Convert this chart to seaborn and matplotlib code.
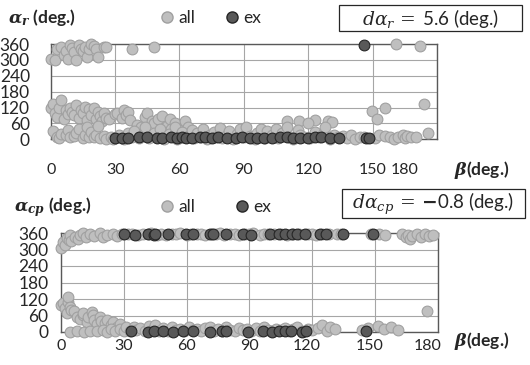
import numpy as np
import pandas as pd
import seaborn as sns
import matplotlib.pyplot as plt
import matplotlib.transforms as mtrans
from matplotlib.lines import Line2D
from matplotlib.patches import Rectangle

# (beta, alpha) pairs
r_all_high = [(0, 303), (2, 298), (3, 340), (5, 350), (6, 320), (7, 335), (8, 305), (9, 358),
              (10, 345), (11, 330), (12, 298), (13, 358), (14, 340), (15, 335), (16, 350),
              (17, 310), (18, 340), (19, 360), (20, 352), (21, 342), (22, 312), (25, 348),
              (26, 350), (38, 340), (48, 348), (161, 360), (172, 352)]
r_all_mid = [(0, 120), (1, 132), (2, 100), (3, 85), (4, 118), (5, 150), (6, 75), (7, 110),
             (8, 95), (9, 120), (10, 105), (11, 90), (12, 130), (13, 80), (14, 112), (15, 100),
             (16, 122), (17, 72), (18, 115), (19, 92), (20, 118), (21, 78), (22, 105), (23, 88),
             (24, 68), (25, 100), (26, 82), (27, 75), (30, 95), (31, 100), (33, 80), (34, 110),
             (35, 90), (36, 105), (37, 72), (40, 55), (42, 45), (44, 85), (45, 98), (47, 70),
             (48, 60), (50, 78), (52, 88), (54, 50), (55.5, 78), (56, 40), (58, 62), (60, 35),
             (62.5, 70), (64, 45), (110, 70), (115.5, 70), (123, 72), (129, 68), (131, 65),
             (149.5, 106), (156, 118), (152, 76), (174, 133)]
r_all_low = [(1, 30), (3, 10), (4, 5), (5, 20), (7, 15), (8, 35), (9, 8), (11, 12), (12, 25),
             (13, 40), (15, 5), (16, 18), (17, 45), (18, 10), (19, 28), (20, 8), (21, 15),
             (22, 50), (23, 5), (25, 12), (26, 3), (28, 8), (29, 2), (30, 5), (32, 15), (34, 2),
             (36, 22), (38, 8), (39, 30), (41, 4), (43, 18), (44, 45), (46, 6), (48, 25),
             (50, 10), (51, 38), (53, 3), (55, 20), (57, 12), (58, 48), (59, 2), (61, 28),
             (63, 7), (65, 15), (66, 35), (67, 5), (68, 22), (70, 10), (71, 40), (73, 3),
             (74, 18), (76, 28), (77, 8), (79, 42), (80, 5), (82, 15), (83, 30), (85, 2),
             (87, 20), (88, 38), (90, 8), (91, 45), (93, 12), (95, 3), (96, 25), (98, 40),
             (100, 6), (101, 30), (103, 15), (105, 38), (106, 4), (108, 22), (110, 48),
             (111, 10), (113, 2), (115, 35), (116, 18), (118, 8), (120, 60), (121, 5),
             (123, 28), (125, 10), (127, 20), (128, 45), (130, 3), (132, 15), (134, 8),
             (136, 12), (138, 5), (140, 18), (142, 3), (144, 10), (146, 8), (151, 5),
             (153, 15), (156, 12), (158, 8), (160, 3), (162, 10), (164, 15), (165, 5),
             (166, 12), (168, 8), (170, 10), (176, 25)]
r_ex = [(30, 5), (33, 6), (36, 4), (41, 8), (45, 10), (49.5, 6), (52, 5), (56, 7), (59, 4),
        (61, 8), (63, 6), (66, 5), (69.5, 8), (72, 9), (75, 4), (78, 7), (82, 5), (86.5, 6),
        (89, 8), (93, 5), (96, 4), (99.6, 6), (103, 5), (107, 7), (110, 8), (113, 6),
        (116, 5), (120, 6), (123, 7), (126, 8), (130, 5), (134.5, 6), (147, 4), (148.5, 6),
        (146, 357)]

cp_all_top = [(0, 305), (1, 327), (2, 318), (3, 342), (4, 335), (4.5, 353), (5, 330),
              (6.7, 347), (8, 340), (9, 353), (10.6, 360), (12, 345), (14, 357), (16, 350),
              (18.7, 360), (20, 345), (22, 353), (25, 357), (27, 348), (29, 355), (32, 356),
              (34, 358), (37, 352), (39, 357), (42, 355), (43, 360), (46, 354), (48, 358),
              (50, 352), (53, 357), (55, 356), (57, 359), (60, 353), (62, 358), (65, 355),
              (67, 357), (69, 352), (72, 358), (74, 356), (76, 360), (78, 354), (81, 357),
              (83, 355), (85, 352), (88, 358), (90, 356), (92, 359), (95, 353), (97, 357),
              (99, 355), (102, 358), (105, 356), (108, 352), (111, 357), (114, 355),
              (118, 358), (120, 356), (122, 352), (125, 357), (128, 355), (132, 358),
              (134, 356), (148, 355), (152, 357), (155, 354), (163, 358), (165, 345),
              (166, 352), (167, 340), (168, 350), (170, 356), (172, 345), (174, 355),
              (176, 350), (178, 352)]
cp_all_low = [(0, 98), (1, 105), (2, 88), (3, 68), (3.4, 109), (3.4, 127), (4.3, 92), (5, 80),
              (6, 75), (7.5, 56), (9, 48), (10.6, 62), (10.6, 68), (12.4, 38), (13, 55),
              (14.7, 74), (15.3, 62), (16, 44), (17, 30), (18.7, 56), (19, 40), (21, 33),
              (22, 42), (24, 25), (25, 35), (27, 20), (28, 28), (4.3, 0), (7.5, 2), (11, 0),
              (14, 5), (17, 2), (20, 8), (22, 0), (24, 10), (26, 3), (28, 12), (30, 5),
              (31, 18), (33, 2), (35, 20), (36, 8), (38, 15), (40, 3), (42, 22), (44, 10),
              (45, 25), (47, 5), (49, 15), (51, 2), (53, 20), (55, 8), (57, 12), (59, 3),
              (61, 18), (63, 6), (65, 10), (67, 2), (69, 15), (71, 20), (73, 5), (75, 12),
              (77, 2), (79, 18), (81, 8), (83, 3), (85, 15), (87, 6), (89, 10), (91, 2),
              (93, 14), (95, 5), (97, 20), (99, 8), (101, 3), (103, 12), (105, 6), (107, 15),
              (109, 2), (111, 10), (113, 18), (115, 5), (118, 12), (120, 8), (123, 15),
              (125, 25), (127, 5), (128.6, 20), (131, 12), (144, 8), (147, 15), (151.6, 22),
              (154.5, 12), (158, 20), (161, 8), (175, 78)]
cp_ex = [(30, 358), (35.4, 352), (41.6, 358), (44.5, 354), (45, 356), (51, 358), (59.6, 357),
         (63, 357), (71, 358), (72.7, 356), (79, 358), (87, 356), (90.9, 354), (100, 357),
         (104, 358), (107, 355), (110.5, 358), (113, 356), (116.7, 357), (124, 358),
         (126.5, 357), (135, 356), (149, 357),
         (33.5, 2), (41.6, 1), (44.5, 3), (49, 2), (53.6, 1), (58.4, 2), (63, 3), (71.3, 1),
         (77, 2), (79, 3), (89.5, 1), (96.6, 2), (101, 1), (104, 2), (107, 3), (110, 2),
         (115, 1), (117, 2), (146, 2)]

x_ticks = [0, 30, 60, 90, 120, 150, 180]
y_ticks = [0, 60, 120, 180, 240, 300, 360]

sns.set_style('white')
plt.rcParams['font.family'] = ['Lato', 'DejaVu Sans']
plt.rcParams['mathtext.fontset'] = 'custom'
plt.rcParams['mathtext.rm'] = 'DejaVu Serif'
plt.rcParams['mathtext.it'] = 'DejaVu Serif:italic'
plt.rcParams['mathtext.bf'] = 'DejaVu Serif:italic:bold'

ALL_FC, ALL_EC = '#bfbfbf', '#a0a0a0'
EX_FC, EX_EC = '#595959', '#262626'
W, H = 530, 365


def to_df(pairs):
    return pd.DataFrame(pairs, columns=['beta', 'alpha'])


def draw_panel(ax, all_pairs, ex_pairs, ypad, xpad, shifts):
    sns.scatterplot(data=to_df(all_pairs), x='beta', y='alpha', ax=ax, s=60,
                    color=ALL_FC, edgecolor=ALL_EC, linewidth=0.8, clip_on=False, zorder=3)
    sns.scatterplot(data=to_df(ex_pairs), x='beta', y='alpha', ax=ax, s=60,
                    color=EX_FC, edgecolor=EX_EC, linewidth=0.8, clip_on=False, zorder=4)
    ax.set_xlim(0, 180)
    ax.set_ylim(0, 360)
    ax.set_xticks(x_ticks)
    ax.set_yticks(y_ticks)
    ax.grid(True, color='#a6a6a6', lw=0.8)
    ax.set_axisbelow(True)
    for sp in ax.spines.values():
        sp.set_color('#595959')
        sp.set_linewidth(1.0)
    ax.tick_params(axis='y', length=0, pad=ypad, labelsize=12.5)
    ax.tick_params(axis='x', length=0, pad=xpad, labelsize=11.5)
    ax.set_xlabel('')
    ax.set_ylabel('')
    # Excel placed a few x labels slightly left of their gridline
    for lab, dx in zip(ax.get_xticklabels(), shifts):
        lab.set_transform(lab.get_transform() +
                          mtrans.ScaledTranslation(dx / 100, 0, fig.dpi_scale_trans))


def legend_at(y, colsp):
    handles = [Line2D([], [], ls='', marker='o', ms=8, mfc=ALL_FC, mec=ALL_EC, label='all'),
               Line2D([], [], ls='', marker='o', ms=8, mfc=EX_FC, mec=EX_EC, label='ex')]
    fig.legend(handles=handles, loc='center left', bbox_to_anchor=(160 / W, y), ncol=2,
               frameon=False, fontsize=12.5, handlelength=0.8, handletextpad=0.25,
               columnspacing=colsp, borderaxespad=0, borderpad=0)


def boxed_text(x0, y0, x1, y1, text):
    fig.patches.append(Rectangle((x0 / W, 1 - y1 / H), (x1 - x0) / W, (y1 - y0) / H,
                                 transform=fig.transFigure, fc='white', ec='#262626',
                                 lw=0.9, zorder=1))
    fig.text((x0 + x1) / 2 / W, 1 - (y0 + y1) / 2 / H, text, fontsize=13.5,
             ha='center', va='center', zorder=2)


fig = plt.figure(figsize=(5.3, 3.65), dpi=100)
ax1 = fig.add_axes([50.7 / W, 1 - 139.3 / H, (437 - 50.7) / W, 95.3 / H])
ax2 = fig.add_axes([61 / W, 1 - 332 / H, (437.5 - 61) / W, 99 / H])

draw_panel(ax1, r_all_high + r_all_mid + r_all_low, r_ex, 15, 17, [0, 0, 0, 0, 0, 0, -32])
draw_panel(ax2, cp_all_top + cp_all_low, cp_ex, 9, 5, [0, 0, 0, 0, -5, -5, -10])

fig.text(8 / W, 1 - 18 / H, r'$\mathbf{\alpha_r}$ (deg.)', fontsize=12.5,
         fontweight='bold', va='center', ha='left')
fig.text(14 / W, 1 - 207 / H, r'$\mathbf{\alpha_{cp}}$ (deg.)', fontsize=12.5,
         fontweight='bold', va='center', ha='left')
fig.text(454 / W, 1 - 170 / H, r'$\mathbf{\beta}$(deg.)', fontsize=12.5,
         fontweight='bold', va='center', ha='left')
fig.text(454 / W, 1 - 341 / H, r'$\mathbf{\beta}$(deg.)', fontsize=12.5,
         fontweight='bold', va='center', ha='left')

legend_at(1 - 18 / H, 1.7)
legend_at(1 - 207 / H, 2.3)

boxed_text(339, 5, 522, 31, r'$d\alpha_r\,=\,$5.6 (deg.)')
boxed_text(342, 189, 525, 218, r'$d\alpha_{cp}\,=\,$$\mathrm{\mathbf{-}}$0.8 (deg.)')

fig.savefig('out.png', dpi=100)
